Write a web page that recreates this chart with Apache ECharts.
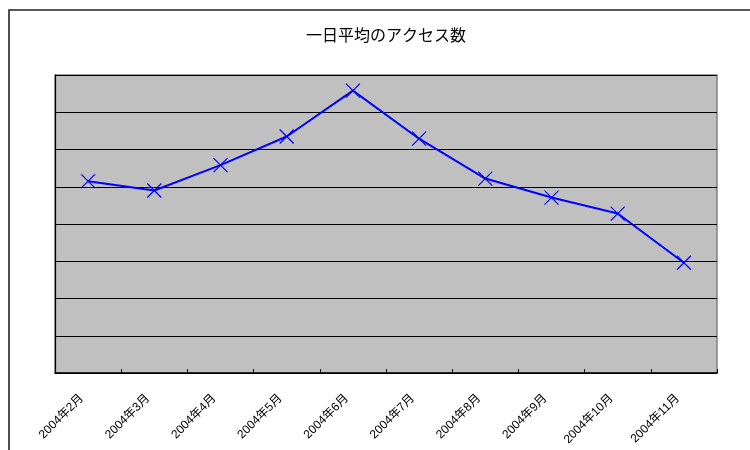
<!DOCTYPE html>
<html>
<head>
<meta charset="utf-8">
<script src="https://cdn.jsdelivr.net/npm/echarts@6/dist/echarts.min.js"></script>
<style>html,body{margin:0;padding:0;background:#fff;}#c{width:750px;height:450px;}</style>
</head>
<body>
<div id="c"></div>
<script>
const titleText = '一日平均のアクセス数';
const months = ['2004年2月','2004年3月','2004年4月','2004年5月','2004年6月','2004年7月','2004年8月','2004年9月','2004年10月','2004年11月'];
const accesses = [515, 490, 558, 635, 758, 629, 522, 471, 428, 296];
const yMin = 0, yMax = 800, yStep = 100;

const FONT = "'Liberation Sans', 'Noto Sans CJK JP', sans-serif";
const chart = echarts.init(document.getElementById('c'), null, {renderer: 'canvas'});
chart.setOption({
  animation: false,
  backgroundColor: '#fff',
  title: {
    text: titleText,
    left: 386,
    top: 29,
    textAlign: 'center',
    padding: 0,
    textStyle: {fontFamily: FONT, fontSize: 16, fontWeight: 'normal', color: '#000'}
  },
  graphic: [{
    type: 'rect', silent: true, z: -1,
    shape: {x: 9, y: 10, width: 800, height: 500},
    style: {fill: 'none', stroke: '#222', lineWidth: 1.6}
  }],
  grid: {
    left: 55, top: 75, width: 662, height: 298,
    show: true, backgroundColor: '#C0C0C0', borderColor: '#808080', borderWidth: 1.5
  },
  xAxis: {
    type: 'category', data: months, boundaryGap: true,
    axisLine: {lineStyle: {color: '#000', width: 1.5}},
    axisTick: {show: true, inside: true, length: 4, alignWithLabel: false, lineStyle: {color: '#000'}},
    axisLabel: {rotate: 45, margin: 17, fontSize: 12, fontFamily: FONT, color: '#000', interval: 0, padding: [0, 9, 0, 0]},
    splitLine: {show: false}
  },
  yAxis: {
    type: 'value', min: yMin, max: yMax, interval: yStep,
    axisLine: {show: true, lineStyle: {color: '#000', width: 1.2}},
    axisTick: {show: true, inside: true, length: 4, lineStyle: {color: '#000'}},
    axisLabel: {show: false},
    splitLine: {show: true, lineStyle: {color: '#000', width: 1}}
  },
  series: [{
    type: 'line', data: accesses,
    lineStyle: {color: '#0000FF', width: 2},
    symbol: 'path://M0,0L10,10M10,0L0,10',
    symbolSize: 14,
    showAllSymbol: true,
    itemStyle: {color: 'none', borderColor: '#0000FF', borderWidth: 1.2},
    emphasis: {disabled: true}
  }]
});
</script>
</body>
</html>
